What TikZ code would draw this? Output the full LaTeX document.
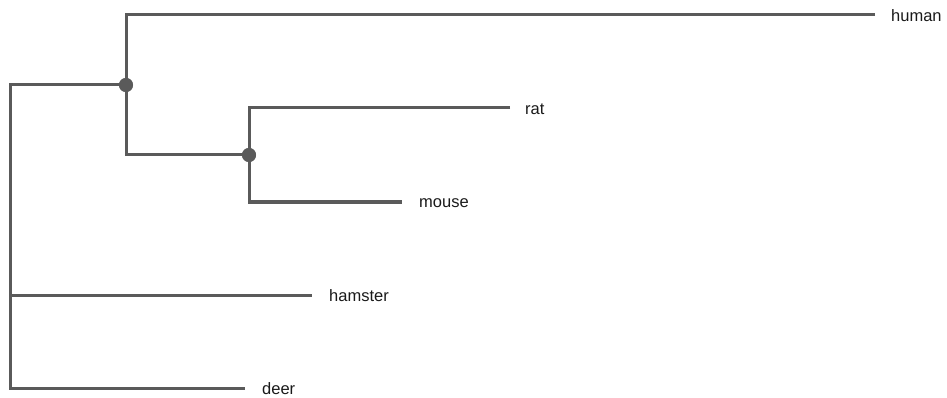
\documentclass[tikz,border=0pt]{standalone}
\usepackage{fontspec}
\setmainfont{Liberation Sans}
\definecolor{edge}{HTML}{5A5A5A}
\definecolor{lbl}{HTML}{1A1A1A}
\tikzset{
  branch/.style={draw=edge, line width=3pt},
  leaflabel/.style={anchor=west, inner sep=0pt, text=lbl, font=\fontsize{16.5}{18}\selectfont},
  joint/.style={circle, fill=edge, inner sep=0pt, minimum size=14pt},
  tip/.style={coordinate}
}
\begin{document}
\begin{tikzpicture}[x=1pt,y=-1pt]
\useasboundingbox (0,0) rectangle (947,398);
% internal nodes
\coordinate (root) at (10,85);
\coordinate (rootb) at (10,388);
\node[joint] (n1) at (126,85) {};
\node[joint] (n2) at (249,155) {};
\coordinate (n1t) at (126,15);
\coordinate (n1b) at (126,155);
\coordinate (n2t) at (249,108);
\coordinate (n2b) at (249,202);
\coordinate (rh) at (10,295);
% tips
\coordinate (thuman) at (875,15);
\coordinate (trat) at (510,108);
\coordinate (tmouse) at (402,202);
\coordinate (thamster) at (312,295);
\coordinate (tdeer) at (245,388);
% labels
\node[leaflabel] (lhuman) at (891,16) {human};
\node[leaflabel] (lrat) at (525,109) {rat};
\node[leaflabel] (lmouse) at (419,203) {mouse};
\node[leaflabel] (lhamster) at (329,296) {hamster};
\node[leaflabel] (ldeer) at (262,389) {deer};
% branches
\draw[branch] (n1.center) -- (root) -- (rootb) -- (tdeer);
\draw[branch] (rh) -- (thamster);
\draw[branch] (thuman) -- (n1t) -- (n1b) -- (n2.center);
\draw[branch] (trat) -- (n2t) -- (n2b) -- (tmouse);
\node[joint] at (n1) {};
\node[joint] at (n2) {};
\end{tikzpicture}
\end{document}
